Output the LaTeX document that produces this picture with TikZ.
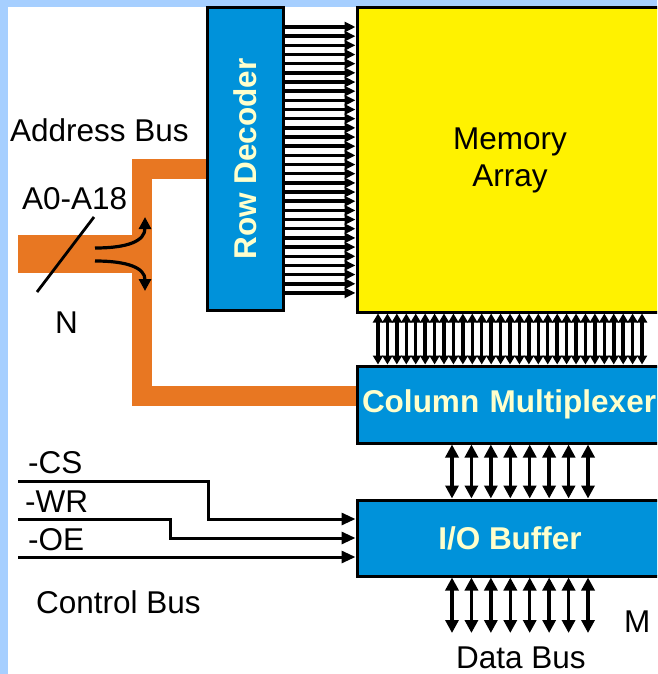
\documentclass[tikz,border=0pt]{standalone}
\usepackage{fontspec}
\setmainfont{Liberation Sans}
\usetikzlibrary{arrows.meta}

\definecolor{slideblue}{HTML}{A6CFFF}
\definecolor{boxblue}{HTML}{0092DA}
\definecolor{memyellow}{HTML}{FFF200}
\definecolor{busorange}{HTML}{E87722}
\definecolor{labelcream}{HTML}{FFFFCC}

\tikzset{
  blockbox/.style={draw=black, line width=3pt, fill=boxblue, text=labelcream,
    font=\fontsize{31.5}{37}\selectfont\bfseries, inner sep=0pt},
  plaintext/.style={inner sep=0pt, anchor=base west, font=\fontsize{31.5}{37}\selectfont},
  rowline/.style={line width=3.5pt, -{Triangle[length=11pt,width=10pt]}},
  colline/.style={line width=3.5pt, {Triangle[length=9pt,width=10pt]}-{Triangle[length=9pt,width=10pt]}},
  dataline/.style={line width=3.5pt, {Triangle[length=13pt,width=13pt]}-{Triangle[length=13pt,width=13pt]}},
  ctrlline/.style={line width=3pt, -{Triangle[length=14pt,width=12pt]}},
  orangebus/.style={draw=busorange, line width=20pt},
}

\begin{document}
\begin{tikzpicture}[x=1pt,y=-1pt]
\useasboundingbox (0,0) rectangle (657,674);
\clip (0,0) rectangle (657,674);

%% Background %%
\fill[slideblue] (0,0) rectangle (657,7);
\fill[slideblue] (0,0) rectangle (8,674);

%% Blocks %%
\node[blockbox, minimum width=76pt, minimum height=302pt] (rowdec) at (245,159) {\rotatebox{90}{Row Decoder}};
\node[blockbox, fill=memyellow, text=black, font=\fontsize{31.5}{37}\selectfont, align=center,
      minimum width=306pt, minimum height=304pt] (memory) at (510,160) {Memory\\Array};
\node[blockbox, minimum width=306pt, minimum height=77pt, text width=296pt, inner xsep=5pt,
      align=left] (colmux) at (510,404.5) {Column Multiplexer};
\node[blockbox, minimum width=306pt, minimum height=76pt] (iobuf) at (510,538) {I/O Buffer};

%% Address bus %%
\coordinate (addrin) at (18,254);
\coordinate (busjoin) at (142,254);
\draw[orangebus, line width=38pt] (addrin) -- (busjoin);
\draw[orangebus] (rowdec.west |- 0,169) -| (142,395.5) -- (colmux.west |- 0,395.5);

\draw[line width=2.8pt] (37,292) -- (94,217);
\draw[line width=3.2pt, -{Triangle[length=12pt,width=12pt]}] (95,248) .. controls (128,248) and (145,241) .. (145,217);
\draw[line width=3.2pt, -{Triangle[length=12pt,width=12pt]}] (95,261) .. controls (128,261) and (145,268) .. (145,291);

%% Row and column lines %%
\foreach \i [evaluate=\i as \y using 27+9.17*\i] in {0,...,29}
  \draw[rowline] (rowdec.east |- 0,\y) -- (memory.west |- 0,\y);

\foreach \i [evaluate=\i as \x using 378+9.43*\i] in {0,...,28}
  \draw[colline] (memory.south -| \x,0) -- (colmux.north -| \x,0);

%% Data bus %%
\coordinate (dataout) at (520,633);
\foreach \i [evaluate=\i as \x using 452+19.43*\i] in {0,...,7}
{
  \draw[dataline] (colmux.south -| \x,0) -- (iobuf.north -| \x,0);
  \draw[dataline] (iobuf.south -| \x,0) -- (\x,0 |- dataout);
}

%% Control bus %%
\coordinate (cs) at (18,481);
\coordinate (wr) at (18,519);
\coordinate (oe) at (18,557);
\draw[ctrlline] (cs) -| (208,519) -- (iobuf.west |- 0,519);
\draw[ctrlline] (wr) -| (170,538) -- (iobuf.west |- 0,538);
\draw[ctrlline] (oe) -- (iobuf.west |- oe);

%% Labels %%
\node[plaintext] (addrlabel) at (10,141) {Address Bus};
\node[plaintext] (alabel) at (22,209) {A0-A18};
\node[plaintext] (nlabel) at (55,333) {N};
\node[plaintext] (cslabel) at (28,473) {-CS};
\node[plaintext] (wrlabel) at (25,512) {-WR};
\node[plaintext] (oelabel) at (28,550) {-OE};
\node[plaintext] (ctrllabel) at (36,613) {Control Bus};
\node[plaintext] (mlabel) at (624,632) {M};
\node[plaintext] (datalabel) at (456,668) {Data Bus};

\end{tikzpicture}
\end{document}
